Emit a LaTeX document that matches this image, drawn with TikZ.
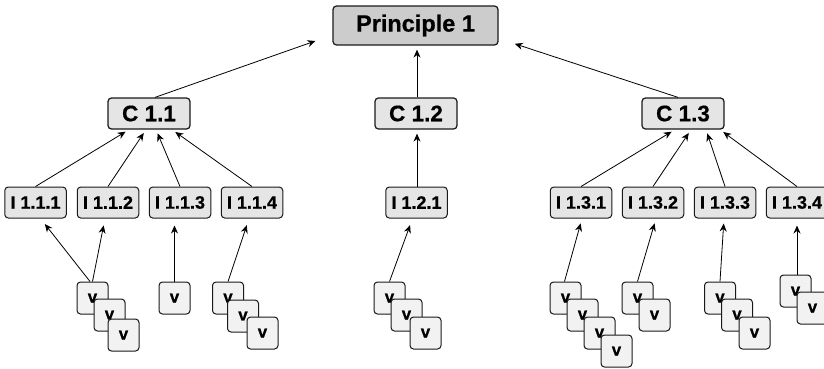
\documentclass[tikz,border=0pt]{standalone}
\usepackage{fontspec}
\setmainfont{Liberation Sans}[BoldFeatures={FakeBold=0.6}]
\usetikzlibrary{arrows.meta}
\definecolor{linec}{HTML}{1a1a1a}
\tikzset{
  x=1pt,y=-1pt,
  base/.style={draw=linec,line width=1.25pt,rounded corners=3.5pt,inner sep=0pt,font=\bfseries,text=black},
  princ/.style={base,fill=black!20,minimum width=165pt,minimum height=39pt,font=\fontsize{23.5}{26}\bfseries},
  crit/.style={base,fill=black!10,minimum width=82pt,minimum height=31pt,font=\fontsize{22.5}{25}\bfseries},
  ind/.style={base,fill=black!10,line width=1pt,minimum width=61.5pt,minimum height=31pt,font=\fontsize{18}{20}\bfseries},
  ver/.style={base,fill=black!5,line width=1pt,minimum width=31pt,minimum height=32pt,font=\fontsize{17}{19}\bfseries},
  arr/.style={draw=black,line width=0.8pt,-{Stealth[length=8pt,width=7pt]}}
}
\begin{document}
\begin{tikzpicture}
\useasboundingbox (0,0) rectangle (824,368);
\node[princ] (P) at (415.5,25.5) {Principle 1};
\node[crit] (C1) at (149,113.5) {C 1.1};
\node[crit] (C2) at (416,113.5) {C 1.2};
\node[crit] (C3) at (683,113.5) {C 1.3};
\node[ind] (I111) at (35.5,202.5) {I 1.1.1};
\node[ind] (I112) at (108,202.5) {I 1.1.2};
\node[ind] (I113) at (180,202.5) {I 1.1.3};
\node[ind] (I114) at (252,202.5) {I 1.1.4};
\node[ind] (I121) at (416.5,202.5) {I 1.2.1};
\node[ind] (I131) at (581,202.5) {I 1.3.1};
\node[ind] (I132) at (653,202.5) {I 1.3.2};
\node[ind] (I133) at (725,202.5) {I 1.3.3};
\node[ind] (I134) at (797,202.5) {I 1.3.4};
\node[ver] (v1a) at (92.5,298) {v};
\node[ver] (v1b) at (109.5,315) {v};
\node[ver] (v1c) at (123.5,335) {v};
\node[ver] (v2a) at (174.5,298) {v};
\node[ver] (v3a) at (228,298) {v};
\node[ver] (v3b) at (243,316) {v};
\node[ver] (v3c) at (262.5,333) {v};
\node[ver] (v4a) at (389.5,298) {v};
\node[ver] (v4b) at (406.5,315) {v};
\node[ver] (v4c) at (425.5,333) {v};
\node[ver] (v5a) at (565.5,298) {v};
\node[ver] (v5b) at (582.5,315) {v};
\node[ver] (v5c) at (599.5,333) {v};
\node[ver] (v5d) at (616.5,351) {v};
\node[ver] (v6a) at (637.5,298) {v};
\node[ver] (v6b) at (654.5,315) {v};
\node[ver] (v7a) at (720,298) {v};
\node[ver] (v7b) at (737,315) {v};
\node[ver] (v7c) at (754.5,333) {v};
\node[ver] (v8a) at (795.5,291) {v};
\node[ver] (v8b) at (812.5,308) {v};
% connectors
\draw[arr,shorten >=18pt] ([xshift=6pt]C1.north) -- ([yshift=-9.5pt]P.west);
\draw[arr,shorten >=4pt] ([xshift=1pt]C2.north) -- ([xshift=1.5pt]P.south);
\draw[arr,shorten >=17pt] ([xshift=-5pt]C3.north) -- ([yshift=-13pt]P.east);
\draw[arr,shorten >=4pt] (I111.north) -- ([xshift=-20pt]C1.south);
\draw[arr,shorten >=4pt] (I112.north) -- ([xshift=-3pt]C1.south);
\draw[arr,shorten >=4pt] (I113.north) -- ([xshift=7pt]C1.south);
\draw[arr,shorten >=4pt] (I114.north) -- ([xshift=23pt]C1.south);
\draw[arr,shorten >=4pt] ([xshift=0.5pt]I121.north) -- ([xshift=1pt]C2.south);
\draw[arr,shorten >=4pt] (I131.north) -- ([xshift=-8pt]C3.south);
\draw[arr,shorten >=4pt] (I132.north) -- ([xshift=8pt]C3.south);
\draw[arr,shorten >=4pt] (I133.north) -- ([xshift=23pt]C3.south);
\draw[arr,shorten >=4pt] (I134.north) -- ([xshift=37pt]C3.south);
\draw[arr,shorten >=7pt] ([xshift=-2.5pt]v1a.north) -- ([xshift=5pt]I111.south);
\draw[arr,shorten >=7pt] (v1a.north) -- ([xshift=-3pt]I112.south);
\draw[arr,shorten >=7pt] (v2a.north) -- ([xshift=-5.5pt]I113.south);
\draw[arr,shorten >=7pt] (v3a.north) -- ([xshift=-3pt]I114.south);
\draw[arr,shorten >=7pt] (v4a.north) -- ([xshift=-4pt]I121.south);
\draw[arr,shorten >=5pt] ([xshift=-1pt]v5a.north) -- ([xshift=1pt]I131.south);
\draw[arr,shorten >=5pt] (v6a.north) -- ([xshift=3pt]I132.south);
\draw[arr,shorten >=5pt] (v7a.north) -- ([xshift=-1pt]I133.south);
\draw[arr,shorten >=7pt] ([xshift=1.5pt]v8a.north) -- ([xshift=0pt]I134.south);
\end{tikzpicture}
\end{document}
